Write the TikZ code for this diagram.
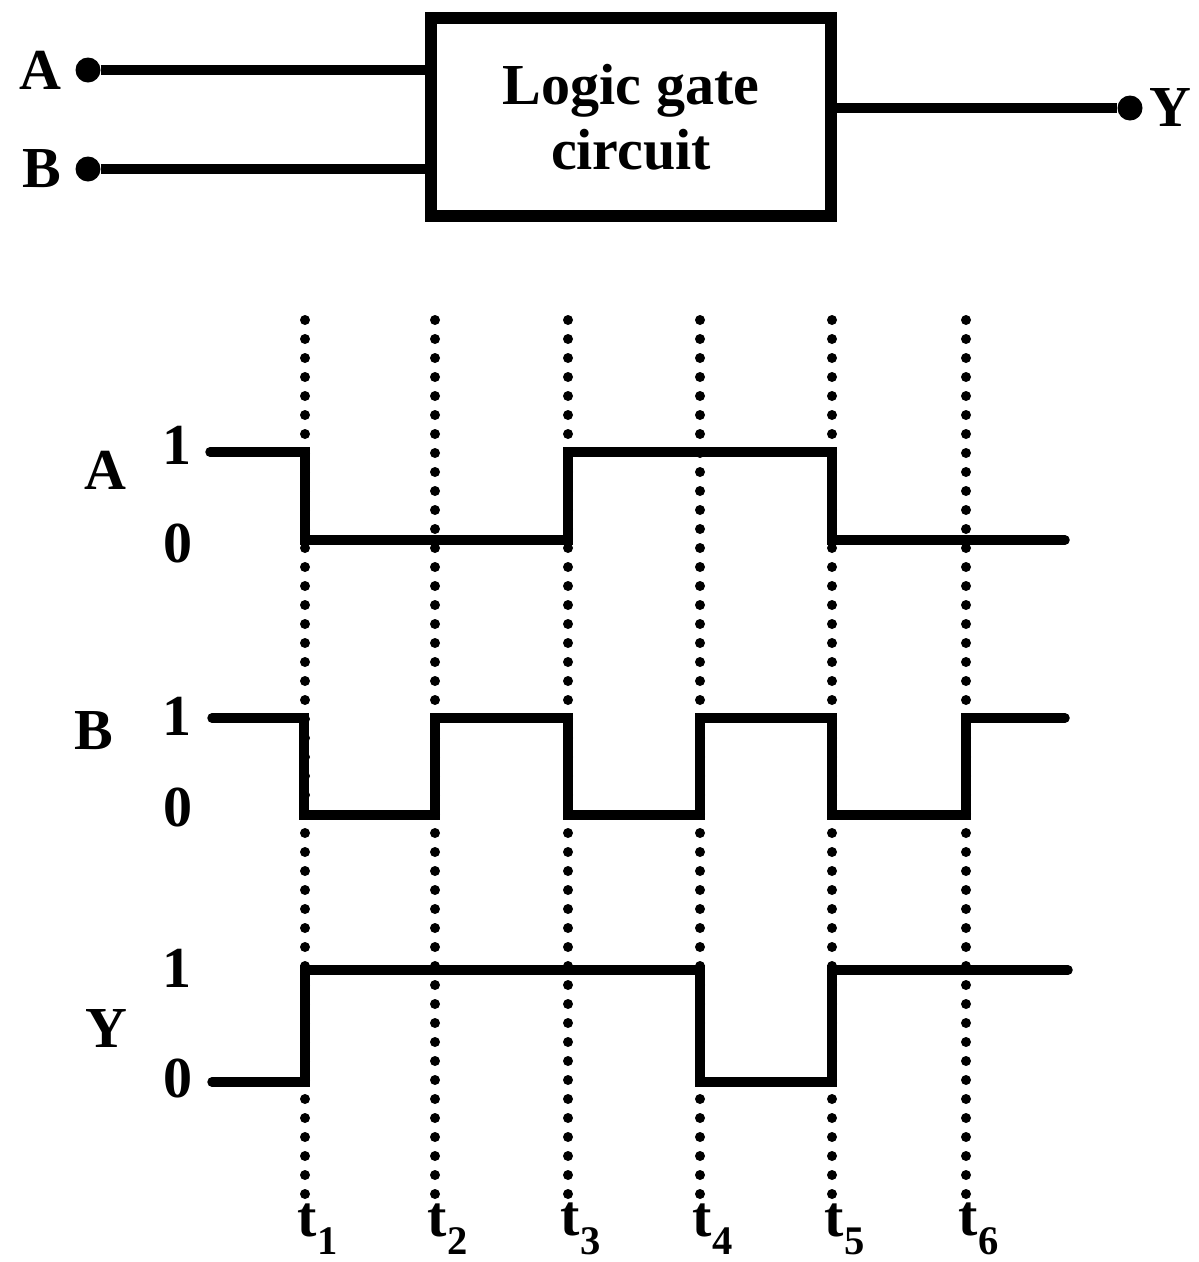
\documentclass[tikz,border=0pt]{standalone}
\usepackage{fontspec}
\setmainfont{Liberation Serif}
\usetikzlibrary{positioning,calc}
\newcommand{\sigrow}[5]{%
  \node[sig] (#1name) at (#2,#3) {#1};
  \node[sig] (#1one) at (177,#4) {1};
  \node[sig] (#1zero) at (178,#5) {0};}

\begin{document}
\begin{tikzpicture}[x=1pt, y=-1pt, font=\fontsize{58}{65}\selectfont\bfseries,
  wire/.style={line width=10pt},
  wave/.style={line width=9.5pt, line cap=round},
  tick/.style={line width=10pt, dash pattern=on 0pt off 19pt, line cap=round},
  pin/.style={circle, fill, inner sep=0pt, minimum size=25pt},
  sig/.style={inner sep=0pt}]
\useasboundingbox (0,0) rectangle (1199,1262);

\node[draw, line width=12pt, minimum width=400pt, minimum height=198pt,
      align=center, inner sep=0pt] (gate) at (631,117) {Logic gate\\circuit};

\node[pin] (pinA) at (88,70) {};
\node[pin] (pinB) at (88,169) {};
\node[pin] (pinY) at (1130,108) {};
\node[sig, left=14pt of pinA] (labA) {A};
\node[sig, left=14pt of pinB] (labB) {B};
\node[sig, right=7pt of pinY] (labY) {Y};

\draw[wire] (pinA) -- (pinA -| gate.west);
\draw[wire] (pinB) -- (pinB -| gate.west);
\draw[wire] (gate.east |- pinY) -- (pinY);

% time markers
\foreach \x [count=\i] in {305,435,568,700,832,966} {
  \draw[tick] (\x,320) coordinate (top\i) -- (\x,1195) coordinate (bot\i);
  \node[sig] (t\i) at (\x+13,1229) {t\textsubscript{\i}};
}

% signal levels
\sigrow{A}{105}{470}{445}{543}
\sigrow{B}{94}{731}{716}{807}
\sigrow{Y}{106}{1028}{968}{1078}

\draw[wave] (210,452) -| (305,540) -| (568,452) -| (832,540) -- (1065,540);
\draw[wave] (212,718) -| (304,815) -| (435,718) -| (568,815) -| (700,718)
  -| (832,815) -| (966,718) -- (1065,718);
\draw[wave] (212,1082) -| (305,970) -| (700,1082) -| (832,970) -- (1068,970);

\end{tikzpicture}
\end{document}
